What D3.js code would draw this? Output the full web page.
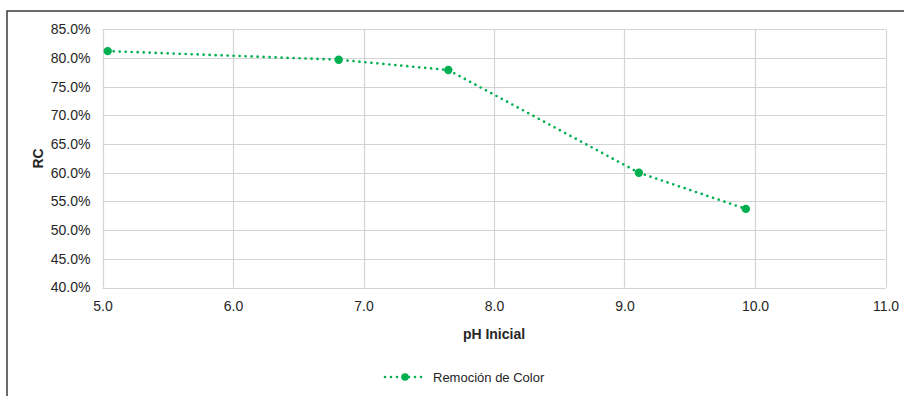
<!DOCTYPE html>
<html>
<head>
<meta charset="utf-8">
<script src="https://cdn.jsdelivr.net/npm/d3@7"></script>
<style>
  html, body { margin: 0; padding: 0; background: #fff; }
  svg { display: block; font-family: "Liberation Sans", Arial, sans-serif; }
</style>
</head>
<body>
<svg id="chart" width="904" height="396"></svg>
<script>
// Remoción de color en función del pH inicial
const phInicial = [5.04, 6.81, 7.65, 9.11, 9.93];
const remocion = [0.812, 0.797, 0.779, 0.600, 0.537];
const xTicks = [5, 6, 7, 8, 9, 10, 11];
const yTicks = [0.40, 0.45, 0.50, 0.55, 0.60, 0.65, 0.70, 0.75, 0.80, 0.85];
const seriesName = "Remoción de Color";
const xTitle = "pH Inicial";
const yTitle = "RC";

const green = "#00b050";
const gridColor = "#d4d4d4";
const textColor = "#262626";

const svg = d3.select("#chart");
const plot = { left: 102.5, right: 885.5, top: 29.3, bottom: 287.5 };

const x = d3.scaleLinear().domain([5, 11]).range([plot.left, plot.right]);
const y = d3.scaleLinear().domain([0.40, 0.85]).range([plot.bottom, plot.top]);

// outer frame
svg.append("path")
  .attr("d", "M7,400 L7,11 L910,11")
  .attr("fill", "none")
  .attr("stroke", "#3a3a3a")
  .attr("stroke-width", 1.5);

// grid
const grid = svg.append("g");
grid.selectAll("line.h").data(yTicks).join("line")
  .attr("x1", plot.left).attr("x2", plot.right)
  .attr("y1", d => Math.round(y(d)) + 0.5).attr("y2", d => Math.round(y(d)) + 0.5)
  .attr("stroke", gridColor).attr("stroke-width", 1.2);
grid.selectAll("line.v").data(xTicks).join("line")
  .attr("y1", plot.top).attr("y2", plot.bottom)
  .attr("x1", d => Math.round(x(d)) + 0.5).attr("x2", d => Math.round(x(d)) + 0.5)
  .attr("stroke", gridColor).attr("stroke-width", 1.2);

// axes (labels only)
const yAxis = svg.append("g")
  .attr("transform", `translate(${plot.left},0)`)
  .call(d3.axisLeft(y).tickValues(yTicks).tickSize(0).tickPadding(12)
    .tickFormat(d => (d * 100).toFixed(1) + "%"));
const xAxis = svg.append("g")
  .attr("transform", `translate(0,${plot.bottom})`)
  .call(d3.axisBottom(x).tickValues(xTicks).tickSize(0).tickPadding(14)
    .tickFormat(d3.format(".1f")));
[yAxis, xAxis].forEach(a => {
  a.select(".domain").remove();
  a.selectAll("text")
    .attr("fill", textColor)
    .style("font-size", "14px")
    .style("font-family", "'Liberation Sans', Arial, sans-serif");
});

// axis titles
svg.append("text")
  .attr("x", (plot.left + plot.right) / 2)
  .attr("y", 338.5)
  .attr("text-anchor", "middle")
  .attr("fill", textColor)
  .style("font-size", "14px").style("font-weight", "bold")
  .text(xTitle);
svg.append("text")
  .attr("transform", `translate(42.5,${(plot.top + plot.bottom) / 2}) rotate(-90)`)
  .attr("text-anchor", "middle")
  .attr("fill", textColor)
  .style("font-size", "14px").style("font-weight", "bold")
  .text(yTitle);

// series
const pts = phInicial.map((p, i) => [p, remocion[i]]);
svg.append("path")
  .datum(pts)
  .attr("fill", "none")
  .attr("stroke", green)
  .attr("stroke-width", 2.7)
  .attr("stroke-linecap", "round")
  .attr("stroke-dasharray", "0,6")
  .attr("d", d3.line().x(d => x(d[0])).y(d => y(d[1])));
svg.selectAll("circle.pt").data(pts).join("circle")
  .attr("class", "pt")
  .attr("cx", d => x(d[0])).attr("cy", d => y(d[1]))
  .attr("r", 4.2).attr("fill", green);

// legend
const lg = svg.append("g").attr("transform", "translate(0,377)");
lg.append("line")
  .attr("x1", 385).attr("x2", 424).attr("y1", 0).attr("y2", 0)
  .attr("stroke", green).attr("stroke-width", 2.7)
  .attr("stroke-linecap", "round").attr("stroke-dasharray", "0,6");
lg.append("circle").attr("cx", 405).attr("cy", 0).attr("r", 3.8).attr("fill", green);
lg.append("text")
  .attr("x", 433).attr("y", 4.5)
  .attr("fill", textColor)
  .style("font-size", "13px")
  .text(seriesName);
</script>
</body>
</html>
